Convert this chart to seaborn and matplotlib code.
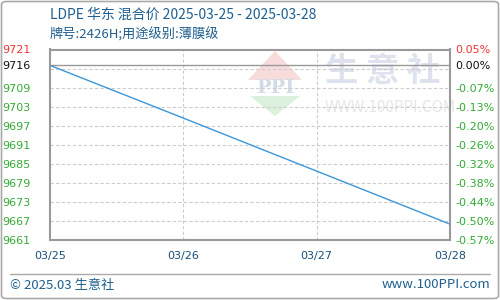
import matplotlib
matplotlib.use("Agg")
import matplotlib.pyplot as plt
import seaborn as sns
import pandas as pd
import numpy as np
from matplotlib.patches import FancyBboxPatch, Polygon

sns.set_style("white")
plt.rcParams['font.family'] = ['Noto Sans CJK SC', 'DejaVu Sans']

dates = ["03/25", "03/26", "03/27", "03/28"]
prices = [9716, 9699.4, 9682.7, 9666]
base = 9716
ytick_vals = [9721, 9716, 9709, 9703, 9697, 9691, 9685, 9679, 9673, 9667, 9661]
grid_vals = [9721, 9715, 9709, 9703, 9697, 9691, 9685, 9679, 9673, 9667]
title1 = "LDPE 华东 混合价 2025-03-25 - 2025-03-28"
title2 = "牌号:2426H;用途级别:薄膜级"
footer_left = "© 2025.03 生意社"
footer_right = "www.100PPI.com"

df = pd.DataFrame({"idx": range(len(dates)), "price": prices})

fig = plt.figure(figsize=(5, 3), dpi=100)
fig.patch.set_facecolor("white")
ax = fig.add_axes([0.1, 0.2, 0.8, 0.635])

# watermark
wm_ax = fig.add_axes([0, 0, 1, 1], zorder=-1)
wm_ax.set_xlim(0, 500); wm_ax.set_ylim(300, 0); wm_ax.axis("off")
wm_ax.add_patch(Polygon([[248, 80], [302, 80], [275, 51]], closed=True, color="#f8dcdc", lw=0))
wm_ax.add_patch(Polygon([[250, 96], [300, 96], [275, 116]], closed=True, color="#dcf0de", lw=0))
wm_ax.text(275, 88, "PPI", ha="center", va="center", fontsize=14, color="#d3dbe9",
           family="DejaVu Serif", fontweight="bold")
wm_ax.text(325, 72, "生 意 社", ha="left", va="center", fontsize=24, color="#dde2ee", fontweight="bold")
wm_ax.text(325, 107, "WWW.100PPI.COM", ha="left", va="center", fontsize=11, color="#e6e6e6")
ax.patch.set_alpha(0)

sns.lineplot(data=df, x="idx", y="price", ax=ax, color="#3a96d8", linewidth=1.0)

ax.set_xlim(0, len(dates) - 1)
ax.set_ylim(ytick_vals[-1], ytick_vals[0])
for g in grid_vals:
    ax.axhline(g, color="#cccccc", linestyle=(0, (3, 2)), linewidth=0.8, zorder=0)
for i in range(1, len(dates) - 1):
    ax.axvline(i, color="#cccccc", linestyle=(0, (3, 2)), linewidth=0.8, zorder=0)
ax.axhline(base, color="#999999", linewidth=1.0, zorder=1)

ax.set_xticks(range(len(dates)))
ax.set_xticklabels(dates, color="#1a4d7a", fontsize=8, family="DejaVu Sans")
ax.set_yticks(ytick_vals)
ax.set_yticklabels([str(v) for v in ytick_vals], fontsize=8, family="DejaVu Sans")
def col(v):
    return "#ee3333" if v > base else ("#111111" if v == base else "#33aa33")
for lbl, v in zip(ax.get_yticklabels(), ytick_vals):
    lbl.set_color(col(v))
ax.tick_params(axis="both", length=0)
ax.tick_params(axis="y", pad=14)
ax.tick_params(axis="x", pad=8)
ax.set_xlabel(""); ax.set_ylabel("")
for s in ax.spines.values():
    s.set_color("#999999"); s.set_linewidth(1.5)

ax2 = ax.twinx()
ax2.set_ylim(ax.get_ylim())
ax2.set_yticks(ytick_vals)
ax2.set_yticklabels([f"{(v - base) / base * 100:.2f}%" for v in ytick_vals], fontsize=8, family="DejaVu Sans")
for lbl, v in zip(ax2.get_yticklabels(), ytick_vals):
    lbl.set_color(col(v))
ax2.tick_params(axis="y", length=0, pad=4)
for s in ax2.spines.values():
    s.set_visible(False)

fig.text(0.1, 0.95, title1, fontsize=10, color="#1f5f8f", ha="left", va="center")
fig.text(0.1, 0.885, title2, fontsize=9.5, color="#1f5f8f", ha="left", va="center")

fig.add_artist(plt.Line2D([10/500, 490/500], [1 - 274/300, 1 - 274/300], color="#aaaaaa", lw=1, transform=fig.transFigure))
fig.text(10/500, 1 - 285/300, footer_left, fontsize=9.5, color="#1f5f8f", ha="left", va="center")
fig.text(490/500, 1 - 285/300, footer_right, fontsize=9.5, color="#1f5f8f", ha="right", va="center")

fig.patches.append(FancyBboxPatch((0.003, 0.005), 0.994, 0.99, boxstyle="round,pad=0,rounding_size=0.01",
                                  transform=fig.transFigure, fill=False, ec="#aaaaaa", lw=1.2))

fig.savefig("out.png", dpi=100)
